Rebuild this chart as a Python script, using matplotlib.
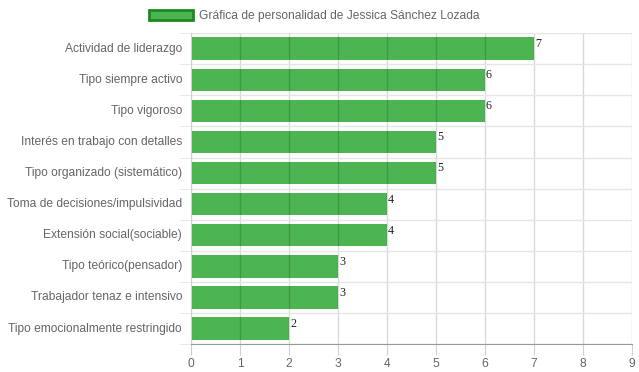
import matplotlib.pyplot as plt
from matplotlib.patches import Patch

# ── Datos ──────────────────────────────────────────────────────────────────────

CATEGORIAS = [
    "Actividad de liderazgo",
    "Tipo siempre activo",
    "Tipo vigoroso",
    "Interés en trabajo con detalles",
    "Tipo organizado (sistemático)",
    "Toma de decisiones/impulsividad",
    "Extensión social(sociable)",
    "Tipo teórico(pensador)",
    "Trabajador tenaz e intensivo",
    "Tipo emocionalmente restringido",
]
VALORES = [7, 6, 6, 5, 5, 4, 4, 3, 3, 2]
TITULO_SERIE = "Gráfica de personalidad de Jessica Sánchez Lozada"
X_TICKS = list(range(0, 10))

# ── Estilo ─────────────────────────────────────────────────────────────────────

BAR_COLOR = "#4CB450"
BAR_EDGE = "#1E8A1E"
TEXT_COLOR = "#666666"
FS = 8.64  # 12 px
plt.rcParams["font.family"] = ["Liberation Sans", "DejaVu Sans"]

fig = plt.figure(figsize=(6.39, 3.72), dpi=100)
ax = fig.add_axes([0.299, 0.075, 0.690, 0.836])

y = list(range(len(CATEGORIAS)))
ax.barh(y, VALORES, height=0.72, color=BAR_COLOR, zorder=1)

for yi, v in zip(y, VALORES):
    ax.text(v + 0.02, yi - 0.34, str(v), family="Liberation Serif",
            fontsize=FS, color="#222222", va="top", ha="left", zorder=4)

ax.set_xlim(0, 9)
ax.set_ylim(len(CATEGORIAS) - 0.5, -0.5)
ax.set_xticks(X_TICKS)
ax.set_yticks(y)
ax.set_yticklabels(CATEGORIAS, va="center")
for lbl in ax.get_yticklabels():
    lbl.set_y(lbl.get_position()[1])

# líneas de separación entre categorías
ax.set_yticks([i - 0.5 for i in range(len(CATEGORIAS) + 1)], minor=True)
ax.grid(axis="y", which="minor", color="#e6e6e6", linewidth=1, zorder=0)
ax.grid(axis="x", which="major", color="black", alpha=0.15, linewidth=1, zorder=3)

ax.tick_params(axis="y", which="major", length=0, pad=6.5, labelsize=FS, colors=TEXT_COLOR)
ax.tick_params(axis="y", which="minor", length=9, color="#e6e6e6")
ax.tick_params(axis="x", length=8, color="#d0d0d0", labelsize=FS, colors=TEXT_COLOR, pad=2)

for side in ["top", "right"]:
    ax.spines[side].set_visible(False)
ax.spines["bottom"].set_color("#999999")
ax.spines["left"].set_color("#d0d0d0")

handle = Patch(facecolor=BAR_COLOR, edgecolor=BAR_EDGE, linewidth=2)
fig.legend([handle], [TITULO_SERIE], loc="center", bbox_to_anchor=(0.492, 0.958),
           frameon=False, handlelength=3.6, handleheight=0.9, handletextpad=0.5,
           prop={"size": FS}, labelcolor=TEXT_COLOR)

fig.savefig("out.png", dpi=100)
